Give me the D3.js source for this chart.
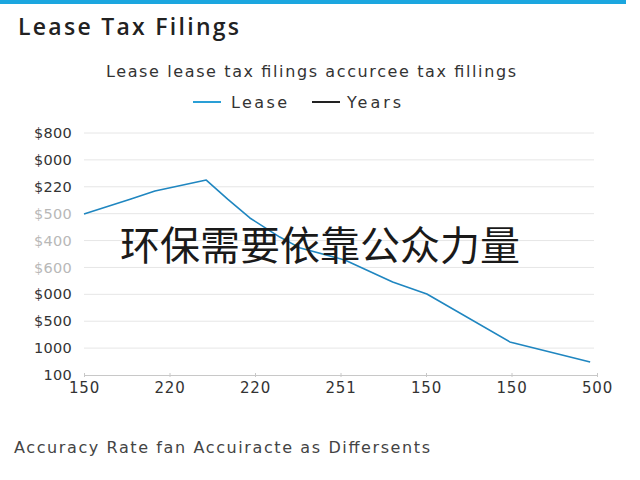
<!DOCTYPE html>
<html>
<head>
<meta charset="utf-8">
<script src="https://cdn.jsdelivr.net/npm/d3@7/dist/d3.min.js"></script>
<style>
  html, body { margin: 0; padding: 0; background: #ffffff; }
  svg { display: block; font-family: "DejaVu Sans", "Open Sans", sans-serif; }
</style>
</head>
<body>
<svg id="chart" width="640" height="480"></svg>
<script>
// ---- data (values in grid units) ----
const xTickLabels = ["150", "220", "220", "251", "150", "150", "500"];
const yTickLabels = ["100", "1000", "$500", "$000", "$600", "$400", "$500", "$220", "$000", "$800"];
const leaseX = [0, 0.54, 0.83, 1.43, 1.68, 1.94, 2.29, 2.53, 3.05, 3.61, 4.01, 4.98, 5.92];
const leaseY = [5.99, 6.54, 6.84, 7.25, 6.54, 5.84, 5.13, 4.72, 4.28, 3.46, 3.01, 1.23, 0.48];
const seriesNames = ["Lease", "Years"];
const seriesColors = ["#1f86c0", "#222222"];
const legendColors = ["#2a9fd6", "#222222"];

const svg = d3.select("#chart");

// top accent bar
svg.append("rect").attr("x", 0).attr("y", 0).attr("width", 626).attr("height", 4).attr("fill", "#1ba6df");

// title
svg.append("text").attr("x", 18).attr("y", 35)
  .attr("font-size", 23).attr("font-weight", 600).attr("font-family", "Open Sans, sans-serif")
  .attr("fill", "#222")
  .attr("textLength", 221).attr("lengthAdjust", "spacing")
  .text("Lease Tax Filings");

// subtitle
svg.append("text").attr("x", 106).attr("y", 77)
  .attr("font-size", 16).attr("fill", "#333")
  .attr("textLength", 410).attr("lengthAdjust", "spacing")
  .text("Lease lease tax filings accurcee tax fillings");

// legend
const legendItems = [{x: 193, tx: 231, w: 56}, {x: 312, tx: 347, w: 54}];
seriesNames.forEach((name, i) => {
  const g = svg.append("g");
  g.append("line").attr("x1", legendItems[i].x).attr("x2", legendItems[i].x + 28)
    .attr("y1", 102).attr("y2", 102).attr("stroke", legendColors[i]).attr("stroke-width", 2);
  g.append("text").attr("x", legendItems[i].tx).attr("y", 108)
    .attr("font-size", 16).attr("fill", "#333")
    .attr("textLength", legendItems[i].w).attr("lengthAdjust", "spacing").text(name);
});

// scales
const x = d3.scaleLinear().domain([0, xTickLabels.length - 1]).range([84, 597]);
const y = d3.scaleLinear().domain([0, yTickLabels.length - 1]).range([375, 133]);

// gridlines
svg.append("g").selectAll("line").data(d3.range(1, yTickLabels.length)).join("line")
  .attr("x1", 84).attr("x2", 594)
  .attr("y1", d => y(d)).attr("y2", d => y(d))
  .attr("stroke", "#e6e6e6").attr("stroke-width", 1);

// y axis labels
const yAxis = d3.axisLeft(y).tickValues(d3.range(yTickLabels.length))
  .tickFormat(i => yTickLabels[i]).tickSize(0).tickPadding(12);
const gy = svg.append("g").attr("transform", "translate(84,0)").call(yAxis);
gy.select(".domain").remove();
gy.selectAll("text").attr("font-size", 14.5).attr("font-family", "DejaVu Sans, sans-serif")
  .attr("letter-spacing", 0.3)
  .attr("fill", d => (d >= 4 && d <= 6) ? "#b8b8b8" : "#333");

// x axis
const xAxis = d3.axisBottom(x).tickValues(d3.range(xTickLabels.length))
  .tickFormat(i => xTickLabels[i]).tickSizeInner(3).tickSizeOuter(0).tickPadding(4);
const gx = svg.append("g").attr("transform", "translate(0,375)").call(xAxis);
gx.select(".domain").attr("stroke", "#c8c8c8");
gx.selectAll(".tick line").attr("stroke", "#c8c8c8").attr("y1", -2).attr("y2", 2);
gx.selectAll("text").attr("font-size", 15).attr("font-family", "DejaVu Sans, sans-serif")
  .attr("letter-spacing", 0.8).attr("fill", "#333");

// line
const pts = leaseX.map((d, i) => [d, leaseY[i]]);
const line = d3.line().x(d => x(d[0])).y(d => y(d[1]));
svg.append("path").datum(pts).attr("d", line)
  .attr("fill", "none").attr("stroke", seriesColors[0]).attr("stroke-width", 1.6)
  .attr("stroke-linejoin", "round");

// overlay CJK text
svg.append("text").attr("x", 320).attr("y", 260).attr("text-anchor", "middle")
  .attr("font-size", 40).attr("font-family", "Noto Sans CJK SC, sans-serif").attr("fill", "#1a1a1a")
  .text("环保需要依靠公众力量");

// footer
svg.append("text").attr("x", 14).attr("y", 453)
  .attr("font-size", 16).attr("fill", "#444")
  .attr("textLength", 416).attr("lengthAdjust", "spacing")
  .text("Accuracy Rate fan Accuiracte as Differsents");
</script>
</body>
</html>
